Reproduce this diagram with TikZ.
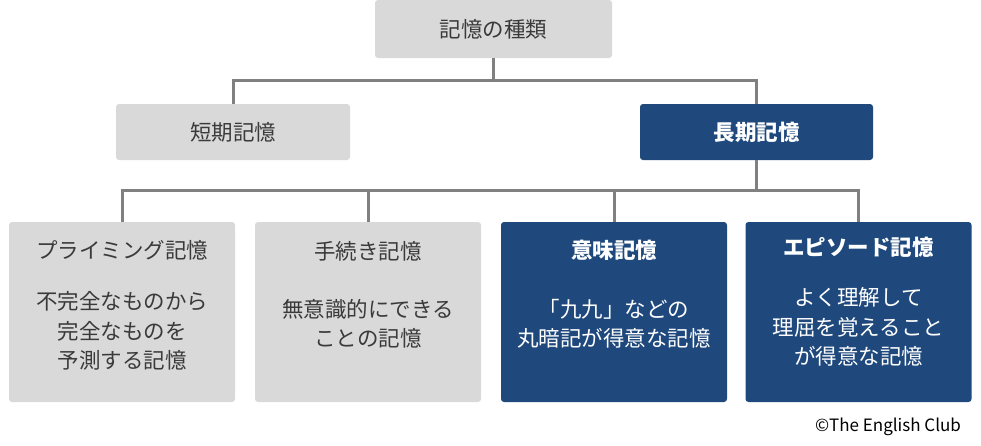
\documentclass[tikz,border=0pt]{standalone}
\usepackage{fontspec}
\setmainfont{Noto Sans CJK JP}
\usepackage{tikz}
\usetikzlibrary{positioning}

\definecolor{boxgray}{HTML}{D9D9D9}
\definecolor{linegray}{HTML}{808080}
\definecolor{textgray}{HTML}{3A3A3A}
\definecolor{navy}{HTML}{1F497D}

\tikzset{
    lightbox/.style={fill=boxgray, rounded corners=3pt, inner sep=0pt},
    darkbox/.style={fill=navy, rounded corners=3pt, inner sep=0pt},
    link/.style={draw=linegray, line width=3pt},
    lighttext/.style={text=textgray, font=\fontsize{21.5}{29.5}\selectfont, align=center},
    darktext/.style={text=white, font=\fontsize{21.5}{29.5}\selectfont, align=center},
}

\begin{document}
\begin{tikzpicture}[x=1pt, y=-1pt]
        \useasboundingbox (0,0) rectangle (981,445);

        % top levels
        \node[lightbox, minimum width=237pt, minimum height=58pt] (kind-root) at (493.5,29) {};
        \node[lighttext] at (kind-root) {記憶の種類};
        \node[lightbox, minimum width=234pt, minimum height=56pt] (short-term) at (233,132) {};
        \node[lighttext] at (short-term) {短期記憶};
        \node[darkbox, minimum width=233pt, minimum height=56pt] (long-term) at (756.5,132) {};
        \node[darktext, font=\fontsize{21.5}{29.5}\selectfont\bfseries] at (long-term) {長期記憶};

        % bottom row
        \foreach \name/\x/\style in {priming/122/lightbox, procedural/368/lightbox,
                semantic/614/darkbox, episodic/858.5/darkbox}
            \node[\style, minimum width=226pt, minimum height=180pt] (\name) at (\x,312) {};

        \node[lighttext] (priming-title) at (122,250) {プライミング記憶};
        \node[lighttext] (priming-text) at (122,331) {不完全なものから\\完全なものを\\予測する記憶};
        \node[lighttext] (procedural-title) at (368,251) {手続き記憶};
        \node[lighttext] (procedural-text) at (368,324) {無意識的にできる\\ことの記憶};
        \node[darktext, font=\fontsize{21.5}{29.5}\selectfont\bfseries] (semantic-title) at (614,250) {意味記憶};
        \node[darktext] (semantic-text) at (614,324) {「九九」などの\\丸暗記が得意な記憶};
        \node[darktext, font=\fontsize{21.5}{29.5}\selectfont\bfseries] (episodic-title) at (858.5,247) {エピソード記憶};
        \node[darktext] (episodic-text) at (858.5,327) {よく理解して\\理屈を覚えること\\が得意な記憶};

        % connectors
        \coordinate (fork-top) at (493.5,80);
        \coordinate (fork-bottom) at (756.5,190);
        \draw[link] (kind-root.south) -- (fork-top);
        \draw[link] (fork-top) -| (short-term.north);
        \draw[link] (fork-top) -| (long-term.north);
        \draw[link] (long-term.south) -- (fork-bottom);
        \foreach \name in {priming, procedural, semantic, episodic}
            \draw[link] (fork-bottom) -| (\name.north);

        \node[text=black, font=\fontsize{17}{20}\selectfont] (credit) at (888,427) {©The English Club};
    \end{tikzpicture}
\end{document}
